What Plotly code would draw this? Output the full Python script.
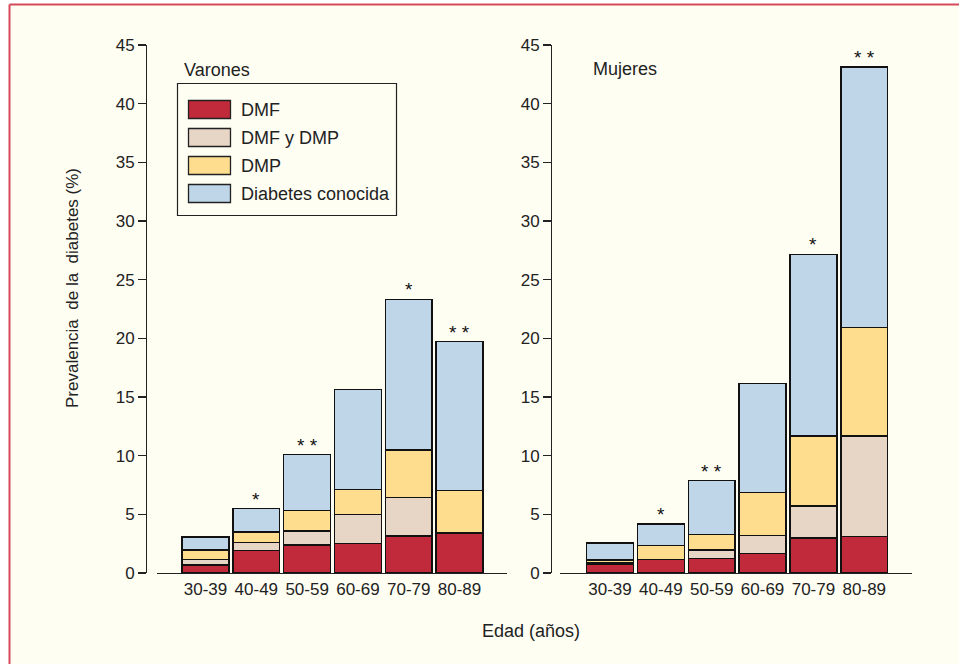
import plotly.graph_objects as go

W, H = 959, 664

age_groups = ["30-39", "40-49", "50-59", "60-69", "70-79", "80-89"]
series_names = ["DMF", "DMF y DMP", "DMP", "Diabetes conocida"]
series_colors = ["#c12a3a", "#e7d5c6", "#fedd8e", "#bfd5e8"]

# Varones (men)
men_dmf = [0.68, 1.93, 2.39, 2.53, 3.15, 3.41]
men_dmf_dmp = [0.49, 0.67, 1.19, 2.44, 3.27, 0.0]
men_dmp = [0.79, 0.90, 1.76, 2.16, 4.06, 3.61]
men_known = [1.11, 1.98, 4.74, 8.49, 12.85, 12.70]
men_marks = ["", "*", "* *", "", "*", "* *"]

# Mujeres (women)
women_dmf = [0.72, 1.15, 1.24, 1.67, 2.97, 3.12]
women_dmf_dmp = [0.15, 0.0, 0.73, 1.54, 2.75, 8.57]
women_dmp = [0.22, 1.21, 1.33, 3.63, 5.97, 9.24]
women_known = [1.45, 1.82, 4.57, 9.33, 15.47, 22.19]
women_marks = ["", "*", "* *", "", "*", "* *"]

y_ticks = [0, 5, 10, 15, 20, 25, 30, 35, 40, 45]

FONT = "Liberation Sans, Arial, sans-serif"
BG = "#fffef3"
FRAME = "#d44a5a"


def px(x):
    return x / W


def py(y):
    return 1 - y / H


fig = go.Figure()

panels = [
    ("x", "y", [men_dmf, men_dmf_dmp, men_dmp, men_known], men_marks),
    ("x2", "y2", [women_dmf, women_dmf_dmp, women_dmp, women_known], women_marks),
]

for xa, ya, data, marks in panels:
    for name, color, vals in zip(series_names, series_colors, data):
        fig.add_trace(go.Bar(
            x=list(range(len(age_groups))), y=vals, name=name,
            marker=dict(color=color, line=dict(color="#111111", width=1.5)),
            xaxis=xa, yaxis=ya, showlegend=False, hoverinfo="skip",
        ))
    totals = [sum(v) for v in zip(*data)]
    for i, (t, m) in enumerate(zip(totals, marks)):
        if m:
            fig.add_annotation(x=i, y=t, xref=xa, yref=ya, text=m,
                               showarrow=False, yanchor="bottom", yshift=-3,
                               font=dict(family=FONT, size=19, color="#111111"))

ymin_px, ymax_px = 573, 45
ydom = [py(ymin_px), py(ymax_px)]

common_x = dict(
    tickmode="array", tickvals=list(range(len(age_groups))), ticktext=age_groups,
    showline=True, linecolor="#222222", linewidth=1.3, ticks="", showgrid=False,
    zeroline=False, tickfont=dict(family=FONT, size=17, color="#222222"),
    fixedrange=True, automargin=False,
)
common_y = dict(
    range=[0, 45], tickvals=y_ticks, showline=True, linecolor="#222222",
    linewidth=1.3, ticks="outside", ticklen=8, tickwidth=1.3, tickcolor="#222222",
    showgrid=False, zeroline=False, anchor="free",
    tickfont=dict(family=FONT, size=17, color="#222222"), domain=ydom,
    fixedrange=True, automargin=False,
)

fig.update_layout(
    template="none",
    width=W, height=H,
    margin=dict(l=0, r=0, t=0, b=0, autoexpand=False),
    paper_bgcolor="white", plot_bgcolor="rgba(0,0,0,0)",
    barmode="stack", bargap=0.08,
    xaxis=dict(domain=[px(157), px(507)], range=[-0.955, 5.935], anchor="y", **common_x),
    yaxis=dict(position=px(146), **common_y),
    xaxis2=dict(domain=[px(560), px(912)], range=[-0.983, 5.938], anchor="y2", **common_x),
    yaxis2=dict(position=px(551), **common_y),
    font=dict(family=FONT, color="#222222"),
)

# page frame: cream panel with red top and left rules
fig.add_shape(type="rect", xref="paper", yref="paper",
              x0=px(9.5), x1=px(W + 20), y0=py(H + 20), y1=py(4.5),
              fillcolor=BG, line=dict(width=0), layer="below")
fig.add_shape(type="line", xref="paper", yref="paper",
              x0=px(9.5), x1=px(W + 20), y0=py(4.5), y1=py(4.5),
              line=dict(color=FRAME, width=2), layer="below")
fig.add_shape(type="line", xref="paper", yref="paper",
              x0=px(9.5), x1=px(9.5), y0=py(4.5), y1=py(H + 20),
              line=dict(color=FRAME, width=2), layer="below")

# panel titles
fig.add_annotation(x=px(182), y=py(70), xref="paper", yref="paper", text="Varones",
                   showarrow=False, xanchor="left", yanchor="middle",
                   font=dict(family=FONT, size=18, color="#222222"))
fig.add_annotation(x=px(591), y=py(69), xref="paper", yref="paper", text="Mujeres",
                   showarrow=False, xanchor="left", yanchor="middle",
                   font=dict(family=FONT, size=18, color="#222222"))

# axis titles
fig.add_annotation(x=px(72), y=py(288), xref="paper", yref="paper",
                   text="Prevalencia  de la  diabetes (%)", textangle=-90,
                   showarrow=False, xanchor="center", yanchor="middle",
                   font=dict(family=FONT, size=17, color="#222222"))
fig.add_annotation(x=px(531), y=py(631), xref="paper", yref="paper",
                   text="Edad (años)", showarrow=False, xanchor="center", yanchor="middle",
                   font=dict(family=FONT, size=18, color="#222222"))

# legend box (custom, large swatches)
fig.add_shape(type="rect", xref="paper", yref="paper",
              x0=px(177.5), x1=px(396.5), y0=py(215.5), y1=py(83.5),
              line=dict(color="#222222", width=1.2), fillcolor=BG)
row_top = 100
for k, (name, color) in enumerate(zip(series_names, series_colors)):
    t = row_top + k * 28
    fig.add_shape(type="rect", xref="paper", yref="paper",
                  x0=px(188.5), x1=px(230.5), y0=py(t + 18.5), y1=py(t + 0.5),
                  fillcolor=color, line=dict(color="#222222", width=1.3))
    fig.add_annotation(x=px(239), y=py(t + 10), xref="paper", yref="paper",
                       text=name, showarrow=False, xanchor="left", yanchor="middle",
                       font=dict(family=FONT, size=18, color="#222222"))

fig.write_html(
    "out.html",
    config={"displayModeBar": False, "staticPlot": True},
    post_script="document.body.style.margin='0';document.body.style.padding='0';"
                "document.body.style.overflow='hidden';",
)
